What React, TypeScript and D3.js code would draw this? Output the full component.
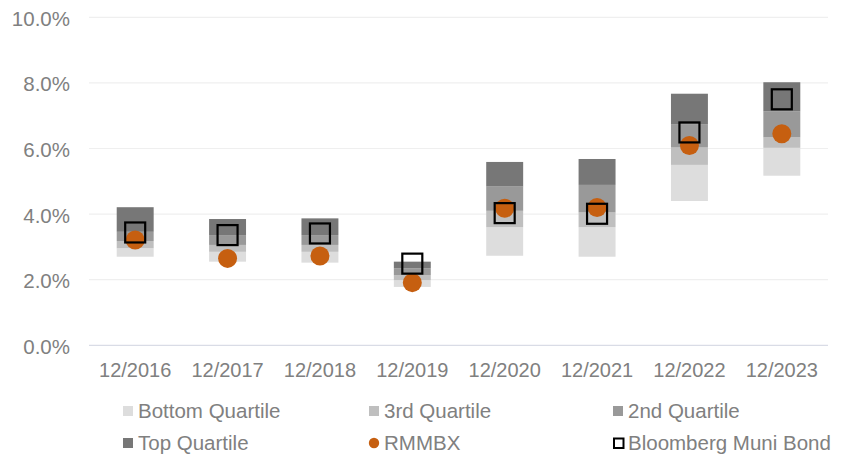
import React from "react";
import * as d3 from "d3";

const categories = ["12/2016", "12/2017", "12/2018", "12/2019", "12/2020", "12/2021", "12/2022", "12/2023"];
const lowBound = [2.70, 2.55, 2.52, 1.78, 2.73, 2.70, 4.40, 5.17];
const p25 = [2.96, 2.85, 2.85, 1.99, 3.60, 3.60, 5.50, 6.02];
const medianVals = [3.18, 3.06, 3.06, 2.14, 4.10, 4.05, 6.03, 6.34];
const p75 = [3.46, 3.36, 3.36, 2.35, 4.84, 4.89, 6.73, 7.13];
const highBound = [4.21, 3.85, 3.87, 2.55, 5.59, 5.68, 7.67, 8.02];
const rmmbx = [3.21, 2.65, 2.72, 1.91, 4.18, 4.20, 6.09, 6.45];
const bloomberg = [3.44, 3.36, 3.41, 2.49, 4.03, 4.01, 6.49, 7.50];
const yTicks = [0, 2, 4, 6, 8, 10];

const quartileNames = ["Bottom Quartile", "3rd Quartile", "2nd Quartile", "Top Quartile"];
const quartileColors = ["#DDDDDD", "#BFBFBF", "#999999", "#777777"];
const ORANGE = "#C65F10";
const TEXT = "#808080";
const FONT = "'Liberation Sans', Arial, sans-serif";

export default function App() {
  const W = 848, H = 454;
  const x = d3.scaleBand<string>().domain(categories).range([89, 828]).paddingInner(0.6).paddingOuter(0.3);
  const y = d3.scaleLinear().domain([0, 10]).range([345.3, 17.3]);
  const bw = x.bandwidth();

  const bounds = [lowBound, p25, medianVals, p75, highBound];

  const legendItems = [
    { label: quartileNames[0], kind: "sq", color: quartileColors[0] },
    { label: quartileNames[1], kind: "sq", color: quartileColors[1] },
    { label: quartileNames[2], kind: "sq", color: quartileColors[2] },
    { label: quartileNames[3], kind: "sq", color: quartileColors[3] },
    { label: "RMMBX", kind: "dot", color: ORANGE },
    { label: "Bloomberg Muni Bond", kind: "box", color: "#000" },
  ];
  const legCols = [123, 369, 613];
  const legRows = [411, 443];

  return (
    <svg width={W} height={H} style={{ position: "absolute", left: 0, top: 0, background: "#fff" }} fontFamily={FONT}>
      {yTicks.map((t) => (
        <g key={t}>
          <line x1={89} x2={828} y1={y(t)} y2={y(t)} stroke={t === 0 ? "#D9DCE6" : "#EFEFEF"} strokeWidth={1.2} />
          <text x={70} y={y(t) + 1} textAnchor="end" dominantBaseline="central" fontSize={20.5} fill={TEXT}>
            {d3.format(".1f")(t)}%
          </text>
        </g>
      ))}
      {categories.map((c, i) => (
        <g key={c}>
          {[0, 1, 2, 3].map((q) => {
            const top = y(bounds[q + 1][i]);
            const bot = y(bounds[q][i]);
            return <rect key={q} x={x(c)!} y={top} width={bw} height={bot - top} fill={quartileColors[q]} />;
          })}
          <text x={x(c)! + bw / 2} y={370} textAnchor="middle" dominantBaseline="central" fontSize={20} fill={TEXT}>
            {c}
          </text>
        </g>
      ))}
      {categories.map((c, i) => (
        <circle key={"r" + c} cx={x(c)! + bw / 2} cy={y(rmmbx[i])} r={9.5} fill={ORANGE} />
      ))}
      {categories.map((c, i) => (
        <rect key={"b" + c} x={x(c)! + bw / 2 - 10} y={y(bloomberg[i]) - 10} width={20} height={20} fill="none" stroke="#000" strokeWidth={2.2} />
      ))}
      {legendItems.map((it, k) => {
        const col = legCols[k % 3];
        const row = legRows[Math.floor(k / 3)];
        return (
          <g key={it.label}>
            {it.kind === "sq" && <rect x={col} y={row - 5} width={10} height={10} fill={it.color} />}
            {it.kind === "dot" && <circle cx={col + 5} cy={row} r={5.2} fill={it.color} />}
            {it.kind === "box" && <rect x={col + 1} y={row - 4.5} width={9.5} height={9.5} fill="none" stroke="#000" strokeWidth={2} />}
            <text x={col + 15} y={row - 0.5} dominantBaseline="central" fontSize={20.5} fill={TEXT}>
              {it.label}
            </text>
          </g>
        );
      })}
    </svg>
  );
}
